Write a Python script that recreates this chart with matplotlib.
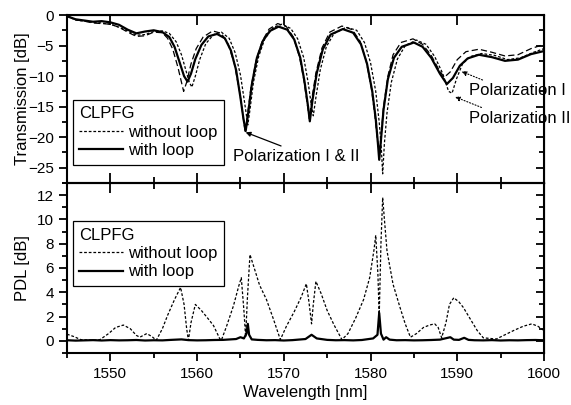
import matplotlib.pyplot as plt
from matplotlib.ticker import MultipleLocator
from matplotlib.lines import Line2D

plt.rcParams['font.family'] = ['Liberation Sans', 'DejaVu Sans']
plt.rcParams['font.size'] = 12

# transmission, with loop (solid)
wl_with = [1545, 1546, 1547, 1548, 1549, 1550, 1551, 1552, 1553, 1554, 1555, 1556,
           1556.8, 1557.4, 1558.0, 1558.5, 1558.9, 1559.3, 1559.8, 1560.5, 1561.3,
           1562.3, 1563.2, 1563.9, 1564.5, 1565.0, 1565.35, 1565.6, 1565.9, 1566.3,
           1566.9, 1567.6, 1568.4, 1569.4, 1570.4, 1571.2, 1571.9, 1572.4, 1572.8,
           1573.0, 1573.3, 1573.8, 1574.5, 1575.4, 1576.8, 1578.0, 1578.9, 1579.6,
           1580.2, 1580.6, 1580.85, 1581.0, 1581.2, 1581.5, 1582.0, 1582.7, 1583.6,
           1585.0, 1586.0, 1587.0, 1588.0, 1588.8, 1589.5, 1590.3, 1591.2, 1592.5,
           1594.0, 1595.5, 1597.0, 1598.5, 1600]
tr_with = [-0.2, -0.7, -0.9, -1.1, -1.0, -1.2, -1.6, -2.4, -3.0, -2.7, -2.5, -2.8,
           -3.6, -5.2, -7.8, -10.0, -10.9, -9.6, -7.2, -4.9, -3.5,
           -3.1, -3.8, -5.8, -9.0, -13.5, -17.0, -19.0, -16.0, -11.5,
           -7.0, -4.2, -2.6, -1.9, -2.4, -4.0, -7.0, -11.0, -15.0,
           -17.4, -14.0, -9.5, -5.6, -3.2, -2.3, -2.9, -4.8, -8.0,
           -12.5, -17.0, -21.0, -23.7, -20.5, -15.5, -10.5, -7.0, -5.2,
           -4.5, -5.2, -7.0, -9.6, -11.3, -10.3, -8.3, -7.1, -6.5,
           -6.9, -7.5, -7.3, -6.4, -5.9]

# transmission, without loop, polarization I (long dash)
wl_pol1 = [1545, 1546, 1547, 1548, 1549, 1550, 1551, 1552, 1553, 1554, 1555, 1556,
           1556.6, 1557.2, 1557.8, 1558.2, 1558.45, 1558.8, 1559.3, 1559.9, 1560.7,
           1561.8, 1562.8, 1563.6, 1564.3, 1564.9, 1565.3, 1565.55, 1565.8, 1566.2,
           1566.8, 1567.5, 1568.3, 1569.3, 1570.3, 1571.1, 1571.8, 1572.3, 1572.7,
           1572.95, 1573.2, 1573.7, 1574.4, 1575.3, 1576.7, 1577.9, 1578.8, 1579.5,
           1580.1, 1580.5, 1580.8, 1581.0, 1581.2, 1581.5, 1582.0, 1582.6, 1583.5,
           1584.9, 1586.0, 1587.0, 1587.9, 1588.5, 1589.2, 1590.0, 1591.0, 1592.5,
           1594.0, 1595.5, 1597.0, 1598.5, 1600]
tr_pol1 = [-0.1, -0.8, -1.0, -1.3, -1.4, -1.5, -2.0, -2.8, -3.5, -3.4, -2.8, -2.9,
           -3.8, -5.6, -8.6, -11.0, -12.5, -11.0, -8.0, -5.5, -3.6,
           -2.6, -3.0, -4.8, -8.0, -12.5, -16.5, -19.2, -16.5, -12.0,
           -7.5, -4.3, -2.3, -1.4, -1.9, -3.6, -6.8, -10.5, -14.5,
           -17.0, -14.0, -9.5, -5.4, -2.8, -1.8, -2.4, -4.3, -7.5,
           -12.0, -16.5, -20.5, -23.0, -20.0, -15.0, -10.0, -6.5, -4.5,
           -3.9, -4.8, -6.6, -9.0, -10.2, -9.3, -7.3, -6.0, -5.6,
           -6.1, -6.7, -6.5, -5.5, -4.8]

# transmission, without loop, polarization II (short dash)
wl_pol2 = [1545, 1546, 1547, 1548, 1549, 1550, 1551, 1552, 1553, 1554, 1555, 1556,
           1556.8, 1557.6, 1558.2, 1558.7, 1559.1, 1559.4, 1559.8, 1560.3, 1561.0,
           1561.9, 1562.8, 1563.7, 1564.4, 1565.0, 1565.5, 1565.85, 1566.1, 1566.5,
           1567.1, 1567.8, 1568.8, 1569.8, 1570.8, 1571.6, 1572.3, 1572.8, 1573.2,
           1573.4, 1573.7, 1574.2, 1574.9, 1575.8, 1577.2, 1578.4, 1579.3, 1580.0,
           1580.6, 1581.0, 1581.25, 1581.4, 1581.6, 1581.9, 1582.4, 1583.1, 1584.0,
           1585.3, 1586.4, 1587.4, 1588.3, 1589.0, 1589.4, 1589.9, 1590.6, 1591.5,
           1592.8, 1594.3, 1595.8, 1597.3, 1598.8, 1600]
tr_pol2 = [-0.2, -0.8, -1.0, -1.2, -1.3, -1.5, -2.0, -2.6, -3.3, -3.2, -2.7, -2.6,
           -3.0, -4.4, -6.5, -9.0, -11.0, -11.8, -10.0, -7.3, -4.7,
           -3.2, -2.8, -3.8, -6.2, -9.8, -14.5, -18.0, -15.5, -11.0,
           -6.8, -3.9, -2.0, -1.5, -2.2, -3.9, -7.0, -11.0, -15.0,
           -16.5, -13.5, -9.0, -5.2, -3.0, -2.0, -2.5, -4.5, -7.8,
           -12.5, -17.5, -22.0, -26.0, -21.0, -16.0, -11.0, -7.2, -5.0,
           -4.1, -4.8, -6.8, -9.5, -12.5, -12.8, -10.5, -8.0, -6.8,
           -6.3, -6.6, -7.3, -7.0, -6.1, -5.5]

# PDL without loop (dashed)
wl_pdl_without = [1545, 1545.8, 1546.6, 1548.0, 1548.8, 1549.8, 1550.6, 1551.5, 1552.3,
                  1553.0, 1553.4, 1554.2, 1554.8, 1555.3, 1556.0, 1556.6, 1557.4, 1558.1,
                  1558.5, 1558.8, 1559.0, 1559.3, 1559.8, 1560.5, 1561.3, 1561.9, 1562.6,
                  1562.8, 1563.4, 1564.2, 1564.8, 1565.1, 1565.4, 1565.6, 1565.8, 1566.1,
                  1566.5, 1567.2, 1568.0, 1568.8, 1569.6, 1570.3, 1571.2, 1572.0, 1572.6,
                  1572.9, 1573.2, 1573.4, 1573.7, 1574.3, 1575.0, 1575.8, 1576.7, 1577.4,
                  1578.3, 1579.2, 1579.9, 1580.4, 1580.6, 1580.85, 1581.0, 1581.2, 1581.4,
                  1581.6, 1581.9, 1582.6, 1583.4, 1584.0, 1584.6, 1585.3, 1586.1, 1586.8,
                  1587.4, 1587.8, 1588.2, 1588.7, 1589.1, 1589.6, 1590.2, 1590.7, 1591.5,
                  1592.3, 1593.0, 1594.5, 1595.5, 1596.5, 1597.6, 1598.6, 1599.3, 1600]
pdl_without = [0.55, 0.35, 0.1, 0.05, 0.1, 0.6, 1.1, 1.3, 1.0,
               0.45, 0.3, 0.6, 0.35, 0.05, 1.0, 2.1, 3.4, 4.4,
               3.0, 1.0, 0.05, 1.5, 3.0, 2.5, 1.8, 1.25, 0.2,
               0.05, 1.2, 2.9, 4.5, 5.2, 2.5, 0.3, 3.5, 7.1,
               6.2, 4.6, 3.4, 1.8, 0.1, 1.2, 2.4, 3.6, 4.7,
               3.2, 1.4, 3.0, 4.9, 3.9, 2.5, 1.3, 0.1, 0.6,
               1.9, 3.4, 5.2, 7.5, 8.7, 5.5, 2.0, 8.0, 11.8,
               10.0, 7.4, 4.65, 2.75, 1.4, 0.3, 0.6, 1.1, 1.3,
               1.4, 1.1, 0.25, 1.5, 3.0, 3.55, 3.2, 2.75, 1.8,
               0.85, 0.25, 0.15, 0.5, 0.85, 1.2, 1.4, 1.2, 0.85]

# PDL with loop (solid)
wl_pdl_with = [1545, 1546, 1547, 1548, 1549, 1550, 1551, 1552, 1553, 1554, 1555, 1556,
               1557, 1558.2, 1559, 1560, 1561, 1562, 1563, 1564.5, 1565.0, 1565.4,
               1565.7, 1565.85, 1566.0, 1566.3, 1567, 1568, 1569, 1570, 1571, 1572.5,
               1573.2, 1573.8, 1575, 1576, 1577, 1578, 1579, 1580.3, 1580.8, 1581.0,
               1581.2, 1581.5, 1581.8, 1582.2, 1583, 1584, 1585, 1586, 1587, 1588,
               1589.2, 1589.6, 1590.2, 1590.8, 1591.3, 1592, 1593, 1594, 1595, 1596,
               1597, 1598, 1599, 1600]
pdl_with = [0.05, 0.02, 0.04, 0.06, 0.03, 0.06, 0.04, 0.05, 0.07, 0.03, 0.05, 0.04,
            0.08, 0.12, 0.06, 0.04, 0.05, 0.07, 0.08, 0.15, 0.3, 0.2,
            0.6, 1.4, 0.5, 0.12, 0.08, 0.05, 0.06, 0.03, 0.06, 0.15,
            0.5, 0.2, 0.08, 0.05, 0.06, 0.04, 0.07, 0.2, 0.5, 2.3,
            0.6, 0.1, 0.3, 0.1, 0.05, 0.06, 0.04, 0.05, 0.07, 0.1,
            0.3, 0.1, 0.08, 0.25, 0.08, 0.05, 0.04, 0.06, 0.03, 0.05,
            0.04, 0.06, 0.07, 0.05]

fig = plt.figure(figsize=(5.71, 4.05), dpi=100)
ax1 = fig.add_axes([0.1173, 0.5481, 0.8354, 0.4148])
ax2 = fig.add_axes([0.1173, 0.1284, 0.8354, 0.4198], sharex=ax1)

long_dash = (0, (5, 2.5))
short_dash = (0, (2.2, 1.5))

ax1.plot(wl_pol1, tr_pol1, color='k', lw=0.9, linestyle=long_dash)
ax1.plot(wl_pol2, tr_pol2, color='k', lw=0.9, linestyle=short_dash)
ax1.plot(wl_with, tr_with, color='k', lw=1.6)

ax2.plot(wl_pdl_without, pdl_without, color='k', lw=0.9, linestyle=short_dash)
ax2.plot(wl_pdl_with, pdl_with, color='k', lw=1.6)

ax1.set_xlim(1545, 1600)
ax1.set_ylim(-27.5, 0)
ax2.set_ylim(-1, 13)

ax1.set_ylabel('Transmission [dB]', fontsize=12)
ax2.set_ylabel('PDL [dB]', fontsize=12)
ax2.set_xlabel('Wavelength [nm]', fontsize=12, labelpad=3)
ax1.yaxis.set_label_coords(-0.078, 0.5)
ax2.yaxis.set_label_coords(-0.078, 0.5)

for ax in (ax1, ax2):
    for s in ax.spines.values():
        s.set_linewidth(1.5)

ax1.xaxis.set_major_locator(MultipleLocator(10))
ax1.xaxis.set_minor_locator(MultipleLocator(5))
ax1.yaxis.set_major_locator(MultipleLocator(5))
ax1.yaxis.set_minor_locator(MultipleLocator(2.5))
ax2.yaxis.set_major_locator(MultipleLocator(2))
ax2.yaxis.set_minor_locator(MultipleLocator(1))

ax1.tick_params(axis='x', which='both', direction='in', top=False, bottom=True,
                labelbottom=False, width=1.3)
ax1.tick_params(axis='x', which='major', length=7)
ax1.tick_params(axis='x', which='minor', length=4)
ax2.tick_params(axis='x', which='both', direction='out', top=False, width=1.3,
                labelsize=11, pad=4)
ax2.tick_params(axis='x', which='major', length=6)
ax2.tick_params(axis='x', which='minor', length=3.5)
for ax in (ax1, ax2):
    ax.tick_params(axis='y', which='both', direction='out', right=False, width=1.3,
                   labelsize=11)
    ax.tick_params(axis='y', which='major', length=6)
    ax.tick_params(axis='y', which='minor', length=3.5)

# top edge ticks of the upper panel
sec_top = ax1.secondary_xaxis('top')
sec_top.xaxis.set_major_locator(MultipleLocator(10))
sec_top.tick_params(direction='in', length=7, width=1.3, labeltop=False)
# top edge ticks of the lower panel
sec_mid = ax2.secondary_xaxis('top')
sec_mid.xaxis.set_major_locator(MultipleLocator(10))
sec_mid.xaxis.set_minor_locator(MultipleLocator(5))
sec_mid.tick_params(which='both', direction='in', width=1.3, labeltop=False)
sec_mid.tick_params(which='major', length=7)
sec_mid.tick_params(which='minor', length=4)

# right edge ticks
for ax, maj, mnr in ((ax1, 5, 2.5), (ax2, 2, 1)):
    sec_r = ax.secondary_yaxis('right')
    sec_r.yaxis.set_major_locator(MultipleLocator(maj))
    sec_r.yaxis.set_minor_locator(MultipleLocator(mnr))
    sec_r.tick_params(which='both', direction='in', width=1.3, labelright=False)
    sec_r.tick_params(which='major', length=6)
    sec_r.tick_params(which='minor', length=3.5)

handles = [Line2D([], [], color='k', lw=0.9, linestyle=short_dash),
           Line2D([], [], color='k', lw=1.6)]
labels = ['without loop', 'with loop']
for ax, y0 in ((ax1, 0.11), (ax2, 0.394)):
    leg = ax.legend(handles, labels, title='CLPFG', alignment='left',
                    loc='lower left', bbox_to_anchor=(0.012, y0), borderaxespad=0,
                    fontsize=12, title_fontsize=12, frameon=True, fancybox=False,
                    framealpha=1, edgecolor='k', handlelength=2.6,
                    handletextpad=0.3, labelspacing=0.2, borderpad=0.4)
    leg.get_frame().set_linewidth(0.9)

ax1.annotate('Polarization I & II', xy=(1565.6, -19.2), xytext=(1564.1, -23.2),
             ha='left', va='center', fontsize=12,
             arrowprops=dict(arrowstyle='-|>', color='k', lw=0.9, mutation_scale=7,
                             shrinkA=1, shrinkB=0, relpos=(0.45, 1.0)))
ax1.annotate('Polarization I', xy=(1590.5, -9.25), xytext=(1591.4, -12.4),
             ha='left', va='center', fontsize=12, annotation_clip=False,
             arrowprops=dict(arrowstyle='-|>', color='k', lw=0.8, linestyle=':',
                             mutation_scale=7, shrinkA=1, shrinkB=0,
                             relpos=(0.22, 1.0)))
ax1.annotate('Polarization II', xy=(1589.75, -13.4), xytext=(1591.4, -16.9),
             ha='left', va='center', fontsize=12, annotation_clip=False,
             arrowprops=dict(arrowstyle='-|>', color='k', lw=0.8, linestyle=':',
                             mutation_scale=7, shrinkA=1, shrinkB=0,
                             relpos=(0.2, 1.0)))

fig.savefig('out.png', dpi=100)
